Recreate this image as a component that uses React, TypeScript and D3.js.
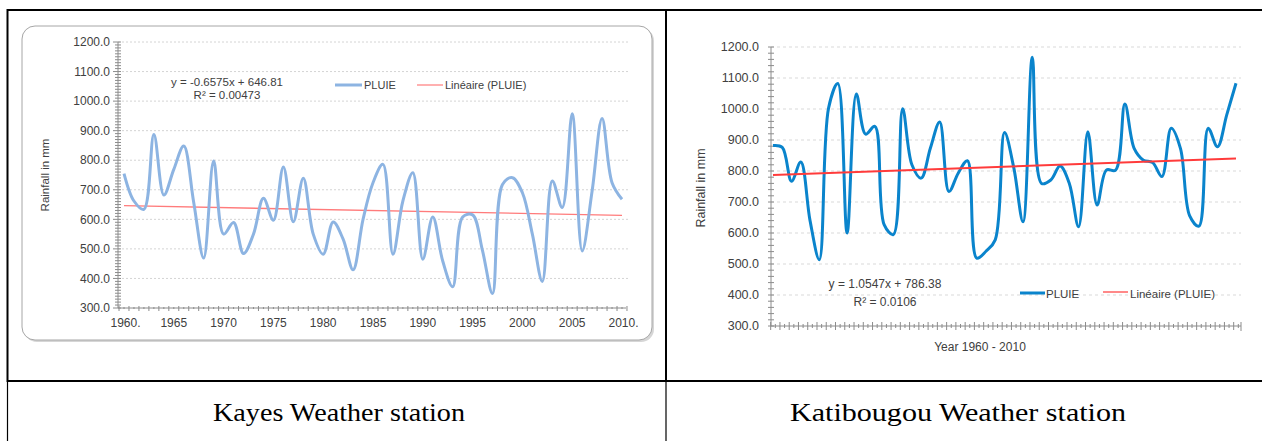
import React from 'react';
import * as d3 from 'd3';

const years = [
  1960, 1961, 1962, 1963, 1964, 1965, 1966, 1967, 1968, 1969,
  1970, 1971, 1972, 1973, 1974, 1975, 1976, 1977, 1978, 1979,
  1980, 1981, 1982, 1983, 1984, 1985, 1986, 1987, 1988, 1989,
  1990, 1991, 1992, 1993, 1994, 1995, 1996, 1997, 1998, 1999,
  2000, 2001, 2002, 2003, 2004, 2005, 2006, 2007, 2008, 2009, 2010,
];

const kayesRain = [
  755, 662, 634, 887, 682, 769, 848, 657, 469, 797,
  550, 589, 484, 550, 671, 597, 777, 592, 739, 550,
  482, 591, 533, 429, 600, 724, 786, 482, 662, 758,
  465, 608, 459, 372, 608, 615, 493, 349, 718, 741,
  690, 550, 390, 730, 640, 957, 493, 696, 941, 724, 668,
];

const katiRain = [
  882, 876, 767, 829, 640, 514, 1003, 1082, 600, 1048,
  919, 944, 627, 595, 1001, 820, 777, 874, 958, 734,
  793, 833, 519, 541, 578, 924, 811, 636, 1167, 760,
  771, 816, 760, 620, 927, 690, 803, 803, 1016, 873,
  835, 827, 782, 938, 873, 655, 622, 938, 878, 981, 1083,
];

const yTicks = [300, 400, 500, 600, 700, 800, 900, 1000, 1100, 1200];
const kayesXTicks = [1960, 1965, 1970, 1975, 1980, 1985, 1990, 1995, 2000, 2005, 2010];
const kayesXLabels = ['1960.', '1965', '1970', '1975', '1980', '1985', '1990', '1995', '2000', '2005', '2010.'];

const kayesSlope = -0.6575;
const kayesIntercept = 646.81;
const kayesEq = 'y = -0.6575x + 646.81';
const kayesR2 = 'R² = 0.00473';

const katiSlope = 1.0547;
const katiIntercept = 786.38;
const katiEq = 'y = 1.0547x + 786.38';
const katiR2 = 'R² = 0.0106';

const seriesName = 'PLUIE';
const trendName = 'Linéaire (PLUIE)';
const yTitle = 'Rainfall in mm';
const katiXTitle = 'Year 1960 - 2010';
const captions = ['Kayes Weather station', 'Katibougou Weather station'];

const sans = "'Liberation Sans', Arial, sans-serif";
const serif = "'Liberation Serif', 'Times New Roman', serif";

function Kayes() {
  const x = d3.scaleLinear().domain([1960, 2010]).range([124, 622]);
  const y = d3.scaleLinear().domain([300, 1200]).range([308, 42]);
  const axisX = 118;
  const gridEnd = 628;
  const line = d3
    .line<number>()
    .x((_, i) => x(years[i]))
    .y((d) => y(d))
    .curve(d3.curveCatmullRom.alpha(0.5));
  const minor = d3.range(300, 1201, 10);
  const xMinor = d3.range(1959.5, 2011, 0.5);
  const trendY0 = kayesSlope * 1 + kayesIntercept;
  const trendY1 = kayesSlope * years.length + kayesIntercept;
  return (
    <g>
      <rect x={24} y={28} width={630} height={314} rx={13} fill="#d6d6d6" />
      <rect x={22} y={26} width={630} height={314} rx={13} fill="#ffffff" stroke="#a6a6a6" strokeWidth={1} />
      {yTicks.slice(1).map((t) => (
        <line key={t} x1={axisX} x2={gridEnd} y1={y(t)} y2={y(t)} stroke="#d4d4d4" strokeWidth={1} strokeDasharray="2,2" />
      ))}
      <line x1={axisX} x2={axisX} y1={y(1200)} y2={y(300)} stroke="#8c8c8c" strokeWidth={1} />
      {minor.map((t) => (
        <line key={t} x1={axisX - (t % 100 === 0 ? 5 : 3)} x2={axisX + 3} y1={y(t)} y2={y(t)} stroke="#8c8c8c" strokeWidth={1} />
      ))}
      <line x1={axisX} x2={gridEnd - 2} y1={y(300)} y2={y(300)} stroke="#8c8c8c" strokeWidth={1} />
      {xMinor.map((t, i) => (
        <line key={i} x1={x(t)} x2={x(t)} y1={y(300) - (i % 2 === 0 ? 2 : 1)} y2={y(300) + (i % 2 === 0 ? 3 : 1)} stroke="#8c8c8c" strokeWidth={1} />
      ))}
      {yTicks.map((t) => (
        <text key={t} x={110} y={y(t)} dy="0.35em" textAnchor="end" fontFamily={sans} fontSize={12} fill="#404040">
          {t.toFixed(1)}
        </text>
      ))}
      {kayesXTicks.map((t, i) => (
        <text key={t} x={x(t) + (kayesXLabels[i].endsWith('.') ? 1.5 : 0)} y={327} textAnchor="middle" fontFamily={sans} fontSize={12} fill="#404040">
          {kayesXLabels[i]}
        </text>
      ))}
      <text transform={`translate(49,${175}) rotate(-90)`} textAnchor="middle" fontFamily={sans} fontSize={11.5} fill="#404040">
        {yTitle}
      </text>
      <text x={227} y={86} textAnchor="middle" fontFamily={sans} fontSize={11.5} fill="#404040">{kayesEq}</text>
      <text x={227} y={99} textAnchor="middle" fontFamily={sans} fontSize={11.5} fill="#404040">{kayesR2}</text>
      <line x1={335} x2={362} y1={85} y2={85} stroke="#8db4e2" strokeWidth={3} />
      <text x={364} y={89} fontFamily={sans} fontSize={11} fill="#404040">{seriesName}</text>
      <line x1={417} x2={443} y1={85} y2={85} stroke="#ff7b7b" strokeWidth={1.2} />
      <text x={445} y={89} fontFamily={sans} fontSize={11} fill="#404040">{trendName}</text>
      <line x1={x(years[0])} x2={x(years[years.length - 1])} y1={y(trendY0)} y2={y(trendY1)} stroke="#ff7b7b" strokeWidth={1.3} />
      <path d={line(kayesRain) || ''} fill="none" stroke="#8db4e2" strokeWidth={3} strokeLinejoin="round" />
    </g>
  );
}

function Kati() {
  const x = d3.scaleLinear().domain([1960, 2010]).range([773, 1236]);
  const y = d3.scaleLinear().domain([300, 1200]).range([326, 47]);
  const axisX = 771;
  const gridEnd = 1241;
  const line = d3
    .line<number>()
    .x((_, i) => x(years[i]))
    .y((d) => y(d))
    .curve(d3.curveCatmullRom.alpha(0.5));
  const minor = d3.range(300, 1201, 20);
  const xMinor = d3.range(1959.75, 2010.6, 0.5);
  const trendY0 = katiSlope * 1 + katiIntercept;
  const trendY1 = katiSlope * years.length + katiIntercept;
  return (
    <g>
      {yTicks.slice(1).map((t) => (
        <line key={t} x1={axisX} x2={gridEnd} y1={y(t)} y2={y(t)} stroke="#d9d9d9" strokeWidth={1} strokeDasharray="3,3" />
      ))}
      <line x1={axisX} x2={axisX} y1={y(1200)} y2={y(300)} stroke="#8c8c8c" strokeWidth={1} />
      {minor.map((t) => (
        <line key={t} x1={axisX - 3} x2={axisX + 3} y1={y(t)} y2={y(t)} stroke="#8c8c8c" strokeWidth={1} />
      ))}
      <line x1={axisX} x2={gridEnd} y1={y(300)} y2={y(300)} stroke="#8c8c8c" strokeWidth={1} />
      {xMinor.map((t, i) => (
        <line key={i} x1={x(t)} x2={x(t)} y1={y(300) - (i % 2 === 0 ? 4 : 2)} y2={y(300) + (i % 2 === 0 ? 4 : 2)} stroke="#8c8c8c" strokeWidth={1} />
      ))}
      <line x1={gridEnd} x2={gridEnd} y1={y(300) - 4} y2={y(300) + 5} stroke="#8c8c8c" strokeWidth={1} />
      {yTicks.map((t) => (
        <text key={t} x={759} y={y(t)} dy="0.35em" textAnchor="end" fontFamily={sans} fontSize={12.5} fill="#404040">
          {t.toFixed(1)}
        </text>
      ))}
      <text x={980} y={351} textAnchor="middle" fontFamily={sans} fontSize={12} fill="#404040">{katiXTitle}</text>
      <text transform={`translate(705,${188}) rotate(-90)`} textAnchor="middle" fontFamily={sans} fontSize={12.5} fill="#404040">
        {yTitle}
      </text>
      <text x={885} y={288} textAnchor="middle" fontFamily={sans} fontSize={12} fill="#404040">{katiEq}</text>
      <text x={885} y={306} textAnchor="middle" fontFamily={sans} fontSize={12} fill="#404040">{katiR2}</text>
      <line x1={1020} x2={1045} y1={293} y2={293} stroke="#0a84cc" strokeWidth={3} />
      <text x={1046} y={298} fontFamily={sans} fontSize={11.5} fill="#404040">{seriesName}</text>
      <line x1={1103} x2={1128} y1={292} y2={292} stroke="#ff3b3b" strokeWidth={1.2} />
      <text x={1130} y={298} fontFamily={sans} fontSize={11.5} fill="#404040">{trendName}</text>
      <path d={line(katiRain) || ''} fill="none" stroke="#0a84cc" strokeWidth={3} strokeLinejoin="round" />
      <line x1={x(years[0])} x2={x(years[years.length - 1])} y1={y(trendY0)} y2={y(trendY1)} stroke="#ff3b3b" strokeWidth={2} />
    </g>
  );
}

export default function App() {
  return (
    <svg width={1262} height={441} style={{ position: 'absolute', left: 0, top: 0, background: '#ffffff' }}>
      <rect x={0} y={0} width={1262} height={441} fill="#ffffff" />
      <Kayes />
      <Kati />
      <line x1={7} x2={1262} y1={10} y2={10} stroke="#000" strokeWidth={2} />
      <line x1={7} x2={1262} y1={381} y2={381} stroke="#000" strokeWidth={2} />
      <line x1={7.5} x2={7.5} y1={9} y2={382} stroke="#000" strokeWidth={2} />
      <line x1={666} x2={666} y1={9} y2={382} stroke="#000" strokeWidth={2} />
      <line x1={7.5} x2={7.5} y1={382} y2={441} stroke="#000" strokeWidth={1.2} />
      <line x1={666} x2={666} y1={382} y2={441} stroke="#000" strokeWidth={1.2} />
      <text x={339} y={421} textAnchor="middle" fontFamily={serif} fontSize={26} textLength={252} lengthAdjust="spacingAndGlyphs" fill="#000">
        {captions[0]}
      </text>
      <text x={958} y={421} textAnchor="middle" fontFamily={serif} fontSize={26} textLength={336} lengthAdjust="spacingAndGlyphs" fill="#000">
        {captions[1]}
      </text>
    </svg>
  );
}
